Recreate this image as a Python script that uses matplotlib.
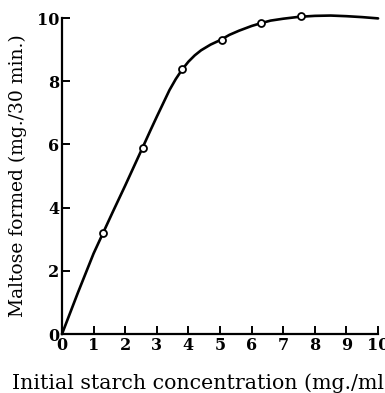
"""Maltose formed vs. initial starch concentration."""
import matplotlib
matplotlib.use('Agg')
import matplotlib.pyplot as plt

# measured points
starch = [1.3, 2.55, 3.8, 5.05, 6.3, 7.55]
maltose = [3.2, 5.9, 8.4, 9.3, 9.85, 10.05]

# hand-drawn curve
curve_x = [0, 0.5, 1, 1.3, 1.6, 2, 2.55, 2.8, 3.0, 3.2, 3.4, 3.6, 3.8, 4.0,
           4.2, 4.4, 4.7, 5.0, 5.3, 5.6, 6.0, 6.3, 6.6, 7, 7.5, 8, 8.5, 9,
           9.5, 10]
curve_y = [0, 1.3, 2.55, 3.2, 3.85, 4.7, 5.9, 6.45, 6.88, 7.3, 7.72, 8.07,
           8.37, 8.62, 8.82, 8.98, 9.16, 9.3, 9.47, 9.6, 9.75, 9.84, 9.92,
           9.98, 10.04, 10.07, 10.08, 10.06, 10.03, 9.99]

x_ticks = list(range(0, 11))
y_ticks = [0, 2, 4, 6, 8, 10]


def main():
    plt.rcParams['font.family'] = ['DejaVu Serif']
    fig = plt.figure(figsize=(3.85, 3.93), dpi=100)
    ax = fig.add_axes([0.161, 0.150, 0.821, 0.804])

    ax.plot(curve_x, curve_y, color='black', lw=1.9,
            solid_capstyle='round', solid_joinstyle='round', clip_on=False)
    ax.plot(starch, maltose, 'o', ms=5, mfc='white', mec='black', mew=1.3,
            clip_on=False, zorder=3)

    ax.set_xlim(0, 10)
    ax.set_ylim(0, 10)
    ax.set_xticks(x_ticks)
    ax.set_yticks(y_ticks)
    for s in ('top', 'right'):
        ax.spines[s].set_visible(False)
    for s in ('left', 'bottom'):
        ax.spines[s].set_linewidth(1.6)
    ax.tick_params(direction='in', length=6, width=1.4, pad=2,
                   labelsize=11.5)
    for lab in ax.get_xticklabels() + ax.get_yticklabels():
        lab.set_fontweight('bold')

    fig.text(12 / 385, 1 - 383 / 393,
             'Initial starch concentration (mg./ml.)',
             ha='left', va='center', fontsize=14.8)
    fig.text(18 / 385, 1 - 176 / 393, 'Maltose formed (mg./30 min.)',
             ha='center', va='center', rotation=90, fontsize=13.5)

    fig.savefig('out.png', dpi=100)
    plt.close(fig)


if __name__ == '__main__':
    main()
